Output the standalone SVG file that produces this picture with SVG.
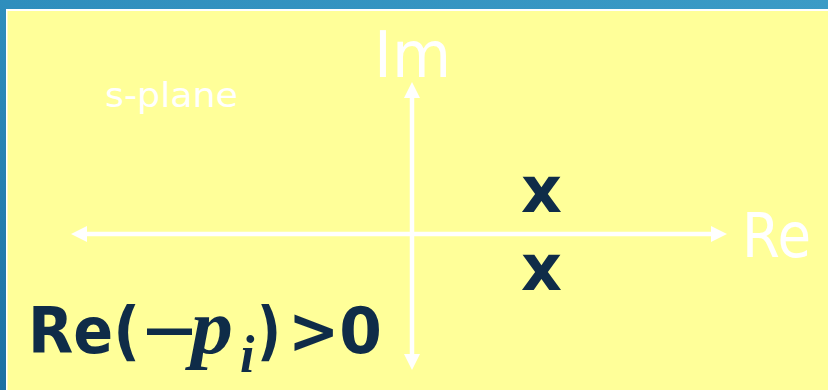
<svg xmlns="http://www.w3.org/2000/svg" width="828" height="390" viewBox="0 0 828 390">
<defs>
<linearGradient id="bg" x1="0" y1="1" x2="1" y2="0">
<stop offset="0" stop-color="#1c70a3"/>
<stop offset="0.5" stop-color="#2f8ebd"/>
<stop offset="1" stop-color="#3b9bc6"/>
</linearGradient>
<marker id="ah" markerUnits="userSpaceOnUse" markerWidth="20" markerHeight="20" viewBox="0 -10 20 20" refX="0" refY="0" orient="auto-start-reverse">
<path d="M0,-8 L16,0 L0,8 z" fill="#ffffff"/>
</marker>
<style>
.ax{stroke:#ffffff;stroke-width:4.5;fill:none}
.lbl{fill:#ffffff;font-family:"DejaVu Sans",Verdana,sans-serif}
.dk{fill:#0f2c48}
.bs{font-family:"DejaVu Sans",Verdana,sans-serif;font-weight:bold}
.mi{font-family:"Liberation Serif","DejaVu Serif",serif;font-style:italic;font-weight:bold}
</style>
</defs>
<rect x="0" y="0" width="828" height="390" fill="url(#bg)"/>
<rect x="6" y="9" width="822" height="381" fill="#ffffff"/>
<rect x="7.5" y="11" width="820.5" height="379" fill="#ffff99"/>
<g id="axes">
<line class="ax" x1="87" y1="234" x2="711" y2="234" marker-start="url(#ah)" marker-end="url(#ah)"/>
<line class="ax" x1="412" y1="354" x2="412" y2="98" marker-start="url(#ah)" marker-end="url(#ah)"/>
</g>
<g id="label-im"><text class="lbl" x="374" y="77" font-size="64" textLength="77" lengthAdjust="spacingAndGlyphs">Im</text></g>
<g id="label-re"><text class="lbl" x="742" y="257" font-size="62" textLength="69" lengthAdjust="spacingAndGlyphs">Re</text></g>
<g id="label-splane"><text class="lbl" x="105" y="107" font-size="34" textLength="133" lengthAdjust="spacingAndGlyphs">s-plane</text></g>
<g id="pole-1"><text class="dk bs" x="521" y="212" font-size="64" textLength="41" lengthAdjust="spacingAndGlyphs">x</text></g>
<g id="pole-2"><text class="dk bs" x="521" y="290" font-size="64" textLength="41" lengthAdjust="spacingAndGlyphs">x</text></g>
<g id="condition" class="dk">
<text class="bs" x="28" y="353" font-size="64" textLength="112" lengthAdjust="spacingAndGlyphs">Re(</text>
<rect x="147" y="328.5" width="45" height="6.5"/>
<text class="mi" x="191" y="353" font-size="78" textLength="42" lengthAdjust="spacingAndGlyphs">p</text>
<text class="mi" x="240" y="372" font-size="52">i</text>
<text class="bs" x="257" y="353" font-size="64" textLength="24" lengthAdjust="spacingAndGlyphs">)</text>
<text class="bs" x="288" y="353" font-size="64" textLength="94" lengthAdjust="spacingAndGlyphs">&gt;0</text>
</g>
</svg>
